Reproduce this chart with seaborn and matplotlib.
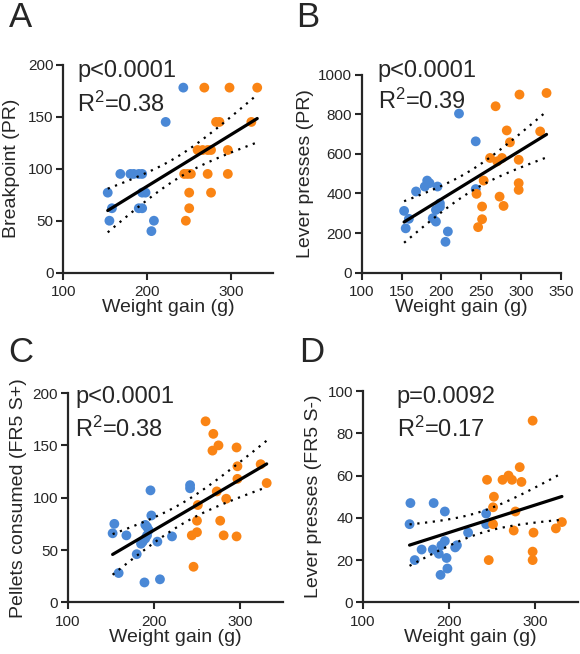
import numpy as np
import pandas as pd
import matplotlib
matplotlib.use("Agg")
import matplotlib.pyplot as plt
import seaborn as sns

sns.set_style("ticks")
plt.rcParams['font.family'] = ['Liberation Sans', 'DejaVu Sans']
plt.rcParams['mathtext.fontset'] = 'custom'
plt.rcParams['mathtext.rm'] = 'Liberation Sans'
plt.rcParams['mathtext.it'] = 'Liberation Sans'

BLUE = "#4a88d6"
ORANGE = "#fa8414"

# Panel A - Breakpoint (PR)
a_blue_x = [243, 222, 168, 180, 184, 190, 194, 153, 194, 198, 158, 190, 194, 155, 208, 205]
a_blue_y = [178, 145, 95, 95, 95, 95, 95, 77, 77, 77, 62, 62, 62, 50, 50, 40]
a_orange_x = [268, 298, 331, 282, 286, 324, 260, 266, 272, 276, 296,
              244, 248, 252, 272, 296, 250, 276, 250, 246]
a_orange_y = [178, 178, 178, 145, 145, 145, 118, 118, 118, 118, 118,
              95, 95, 95, 95, 95, 77, 77, 62, 50]

# Panel B - Lever presses (PR)
b_blue_x = [222, 243, 168, 182, 185, 179, 195, 243, 198, 198, 153, 193, 159, 189, 193, 155, 208, 205]
b_blue_y = [803, 663, 410, 465, 452, 435, 435, 422, 350, 333, 312, 317, 272, 275, 258, 224, 208, 156]
b_orange_x = [298, 332, 268, 282, 324, 286, 261, 270, 276, 297, 253, 297, 297, 244, 273, 278, 251, 251, 246]
b_orange_y = [899, 907, 840, 718, 713, 658, 579, 562, 579, 570, 465, 452, 418, 398, 384, 337, 334, 270, 230]

# Panel C - Pellets consumed (FR5 S+)
c_blue_x = [196, 242, 242, 154, 152, 168, 197, 190, 192, 194, 192, 190, 187, 185, 204, 221, 180, 159, 189, 207]
c_blue_y = [107, 112, 109, 75, 66, 64, 83, 74, 72, 69, 64, 61, 58, 56, 58, 63, 46, 28, 19, 22]
c_orange_x = [260, 269, 275, 268, 296, 324, 297, 297, 331, 273, 284, 251, 250, 277, 250, 244, 281, 296, 246]
c_orange_y = [173, 161, 150, 145, 148, 132, 130, 118, 114, 106, 99, 93, 78, 78, 67, 64, 64, 63, 34]

# Panel D - Lever presses (FR5 S-)
d_blue_x = [155, 182, 195, 154, 243, 243, 222, 209, 207, 195, 191, 168, 181, 188, 197, 160, 198, 190]
d_blue_y = [47, 47, 43, 37, 42, 37, 33, 27, 26, 29, 27, 25, 25, 23, 21, 20, 16, 13]
d_orange_x = [297, 282, 269, 262, 273, 244, 284, 252, 251, 277, 251, 331, 324, 275, 298, 297, 297, 246]
d_orange_y = [86, 64, 60, 58, 58, 58, 57, 50, 45, 43, 37, 38, 35, 34, 33, 24, 20, 20]

panels = [
    ("A", a_blue_x, a_blue_y, a_orange_x, a_orange_y, "Breakpoint (PR)",
     (0, 200), np.arange(0, 201, 50), np.arange(100, 301, 100), "p<0.0001", "0.38"),
    ("B", b_blue_x, b_blue_y, b_orange_x, b_orange_y, "Lever presses (PR)",
     (0, 1000), np.arange(0, 1001, 200), np.arange(100, 351, 50), "p<0.0001", "0.39"),
    ("C", c_blue_x, c_blue_y, c_orange_x, c_orange_y, "Pellets consumed (FR5 S+)",
     (0, 200), np.arange(0, 201, 50), np.arange(100, 301, 100), "p<0.0001", "0.38"),
    ("D", d_blue_x, d_blue_y, d_orange_x, d_orange_y, "Lever presses (FR5 S-)",
     (0, 100), np.arange(0, 101, 20), np.arange(100, 301, 100), "p=0.0092", "0.17"),
]

# axes boxes in figure fractions, and text anchors in axes fractions
boxes = [[0.109, 0.583, 0.362, 0.318],
         [0.624, 0.583, 0.343, 0.303],
         [0.117, 0.079, 0.371, 0.320],
         [0.626, 0.079, 0.371, 0.323]]
text_pos = [(0.067, 0.942, 0.774), (0.08, 0.99, 0.827),
            (0.033, 0.952, 0.791), (0.157, 0.945, 0.784)]
letter_pos = [(0.015, 0.958), (0.51, 0.958), (0.015, 0.447), (0.515, 0.447)]
ylabel_pad = [6, 3, 4, 4]

fig = plt.figure(figsize=(5.8, 6.54), dpi=100)

for i, (letter, bx, by, ox, oy, ylab, ylim, yticks, xticks, ptxt, r2) in enumerate(panels):
    ax = fig.add_axes(boxes[i])
    df = pd.DataFrame({
        "x": list(bx) + list(ox),
        "y": list(by) + list(oy),
        "group": ["low"] * len(bx) + ["high"] * len(ox),
    })
    sns.scatterplot(data=df, x="x", y="y", hue="group",
                    palette={"low": BLUE, "high": ORANGE},
                    s=50, linewidth=0, legend=False, ax=ax, zorder=3, clip_on=False)

    # linear regression with 95% confidence band
    x = df["x"].to_numpy(float)
    y = df["y"].to_numpy(float)
    n = len(x)
    slope, inter = np.polyfit(x, y, 1)
    resid = y - (slope * x + inter)
    s = np.sqrt(np.sum(resid ** 2) / (n - 2))
    sxx = np.sum((x - x.mean()) ** 2)
    xs = np.linspace(x.min(), x.max(), 100)
    fit = slope * xs + inter
    se = s * np.sqrt(1 / n + (xs - x.mean()) ** 2 / sxx)
    t = 2.03
    ax.plot(xs, fit, color="black", lw=2.3, zorder=4)
    ax.plot(xs, fit + t * se, color="black", lw=1.6, ls=(0, (1, 2.5)), zorder=4)
    ax.plot(xs, fit - t * se, color="black", lw=1.6, ls=(0, (1, 2.5)), zorder=4)

    ax.set_xlim(100, 350)
    ax.set_ylim(*ylim)
    ax.set_xticks(xticks)
    ax.set_yticks(yticks)
    ax.tick_params(labelsize=11, width=1.5, length=5, direction="out", pad=2)
    ax.tick_params(axis="x", pad=4)
    for sp in ["left", "bottom"]:
        ax.spines[sp].set_linewidth(1.6)
    sns.despine(ax=ax)
    ax.set_xlabel("Weight gain (g)", fontsize=14, labelpad=0)
    ax.set_ylabel(ylab, fontsize=14, labelpad=ylabel_pad[i])

    tx, ty1, ty2 = text_pos[i]
    ax.text(tx, ty1, ptxt, transform=ax.transAxes, fontsize=17, va="baseline")
    ax.text(tx, ty2, r"R$^{\mathrm{2}}$=" + r2, transform=ax.transAxes, fontsize=17, va="baseline")

    lx, ly = letter_pos[i]
    fig.text(lx, ly, letter, fontsize=25, va="baseline")

fig.savefig("out.png", dpi=100)
